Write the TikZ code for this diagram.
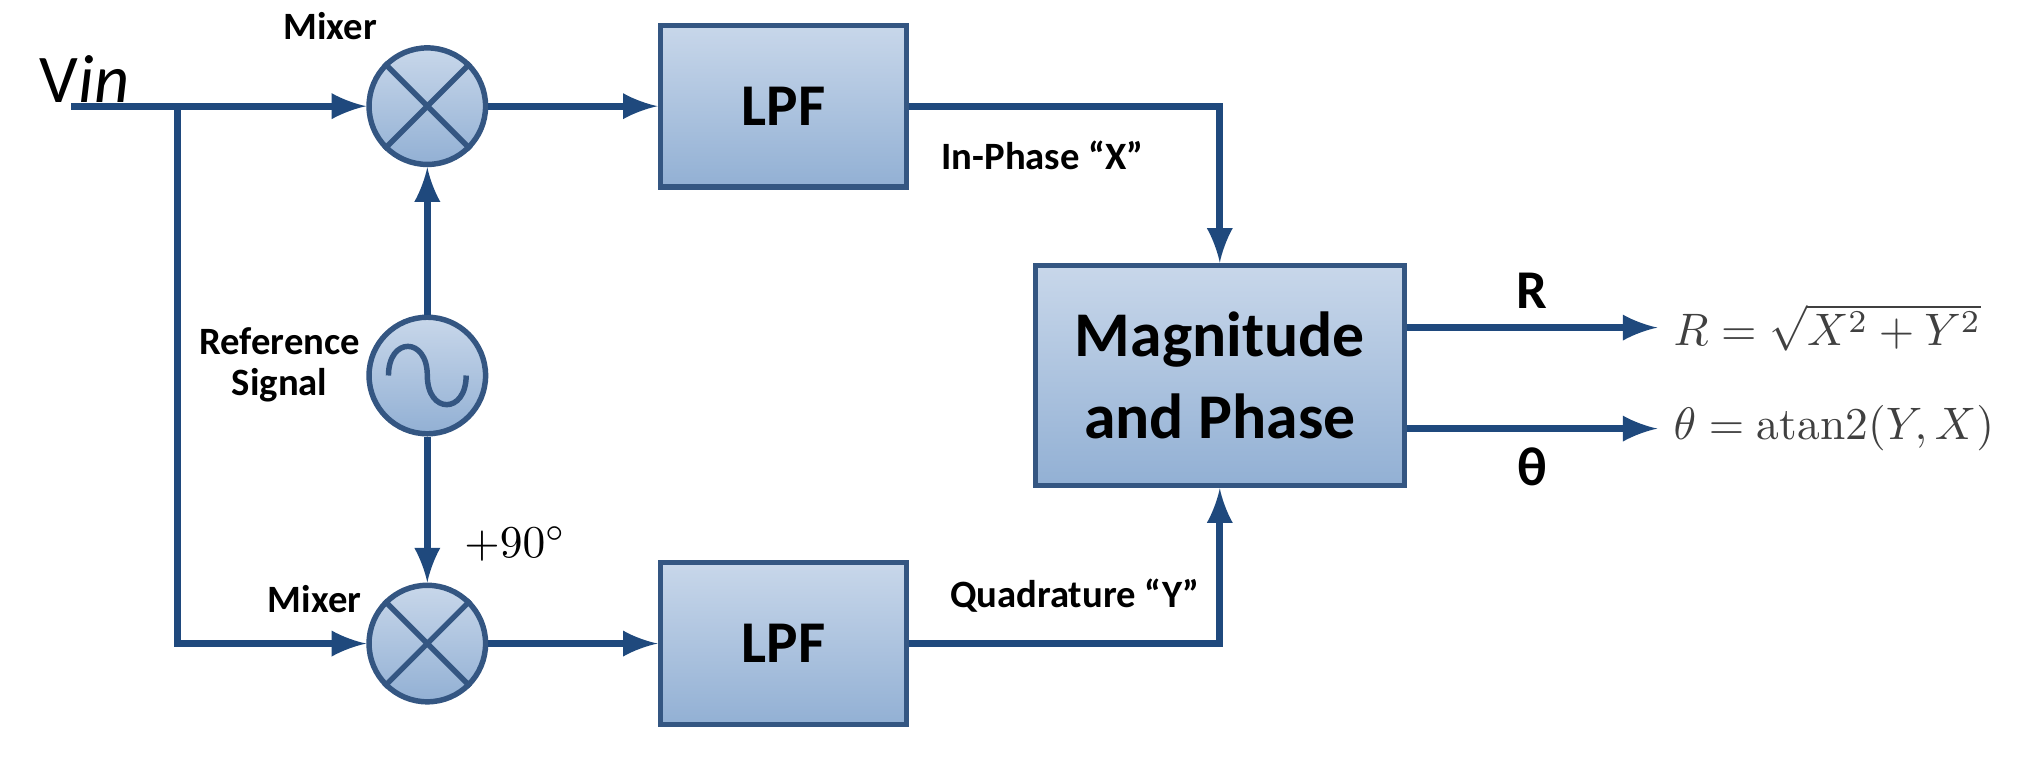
\documentclass[tikz,border=0pt]{standalone}
\usepackage{amsmath}
\usepackage{fontspec}
\setmainfont{Carlito}
\newfontfamily\lmfont{Latin Modern Roman}
\usetikzlibrary{arrows}
\usetikzlibrary{calc}
\usetikzlibrary{positioning}

\definecolor{lineblue}{RGB}{31,73,125}
\definecolor{boxtop}{RGB}{200,215,234}
\definecolor{boxbot}{RGB}{146,176,212}
\definecolor{boxedge}{RGB}{52,86,130}

\tikzset{
  block/.style={draw=boxedge,line width=1.2pt,top color=boxtop,bottom color=boxbot,
    minimum width=1.9cm,minimum height=1.25cm,font=\bfseries\fontsize{13}{13}\selectfont},
  mixer/.style={circle,draw=boxedge,line width=1.2pt,top color=boxtop,bottom color=boxbot,
    minimum size=0.9cm,inner sep=0pt},
  conn/.style={->,draw=lineblue,line width=1.6pt},
  tag/.style={font=\bfseries\fontsize{8.5}{9}\selectfont}
}

\begin{document}
\begin{tikzpicture}[>=latex,x=1cm,y=1cm]
    \useasboundingbox (0,0) rectangle (15.6,5.86);

    % Define positions
    \def\topy{5.04}
    \def\boty{0.89}
    \def\midy{2.96}

    % Mixers and reference
    \node[mixer] (mixA) at (3.30,\topy) {};
    \node[mixer] (mixB) at (3.30,\boty) {};
    \node[mixer] (osc) at (3.30,\midy) {};
    \foreach \m in {mixA,mixB}{
      \draw[boxedge,line width=1.2pt] (\m.45) -- (\m.225) (\m.135) -- (\m.315);
    }
    \draw[boxedge,line width=1.2pt] ($(osc.center)+(-0.3,0)$)
      .. controls ($(osc.center)+(-0.3,0.3)$) and ($(osc.center)+(0,0.3)$) .. (osc.center)
      .. controls ($(osc.center)+(0,-0.3)$) and ($(osc.center)+(0.3,-0.3)$) .. ($(osc.center)+(0.3,0)$);

    % Filters
    \node[block] (lpfA) at (6.05,\topy) {LPF};
    \node[block] (lpfB) at (6.05,\boty) {LPF};
    \node[block,minimum width=2.85cm,minimum height=1.7cm,align=center,
      font=\bfseries\fontsize{14}{18}\selectfont] (mag) at (9.42,\midy) {Magnitude\\and Phase};

    % Input
    \node[font=\fontsize{15}{15}\selectfont,anchor=south west,inner sep=0pt] (vin) at (0.30,\topy+0.02) {V\textit{in}};
    \coordinate (start) at (0.55,\topy);
    \coordinate (split) at (1.37,\topy);
    \draw[conn] (start) -- (mixA.west);
    \draw[conn] (split) |- (mixB.west);

    % Labels
    \node[tag] (lblA) at (2.55,5.66) {Mixer};
    \node[tag] (lblB) at (2.43,1.23) {Mixer};
    \node[tag,align=center] (lblR) at (2.16,3.04) {Reference\\Signal};
    \node[font=\fontsize{10}{10}\selectfont] (shift) at (3.98,1.66) {$+90^\circ$};

    % Signal flow
    \draw[conn] (osc) -- (mixA);
    \draw[conn] (osc) -- (mixB);
    \draw[conn] (mixA) -- (lpfA);
    \draw[conn] (mixB) -- (lpfB);
    \draw[conn] (lpfA.east) -| (mag.north);
    \draw[conn] (lpfB.east) -| (mag.south);
    \node[tag] (lblX) at (8.05,4.66) {In-Phase “X”};
    \node[tag] (lblY) at (8.30,1.26) {Quadrature “Y”};

    % Outputs
    \coordinate (outR) at (12.80,3.33);
    \coordinate (outT) at (12.80,2.55);
    \draw[conn] (mag.east |- outR) -- node[above,font=\bfseries\fontsize{12}{12}\selectfont] {R} (outR);
    \draw[conn] (mag.east |- outT) -- node[below,font=\bfseries\fontsize{12}{12}\selectfont] {θ} (outT);
    \node[anchor=west,text=black!75,font=\fontsize{10}{10}\selectfont] (eqR) at (outR) {$R=\sqrt{X^2+Y^2}$};
    \node[anchor=west,text=black!75,font=\fontsize{10}{10}\selectfont] (eqT) at (outT) {$\theta=\text{\lmfont atan2}(Y,X)$};

\end{tikzpicture}
\end{document}
